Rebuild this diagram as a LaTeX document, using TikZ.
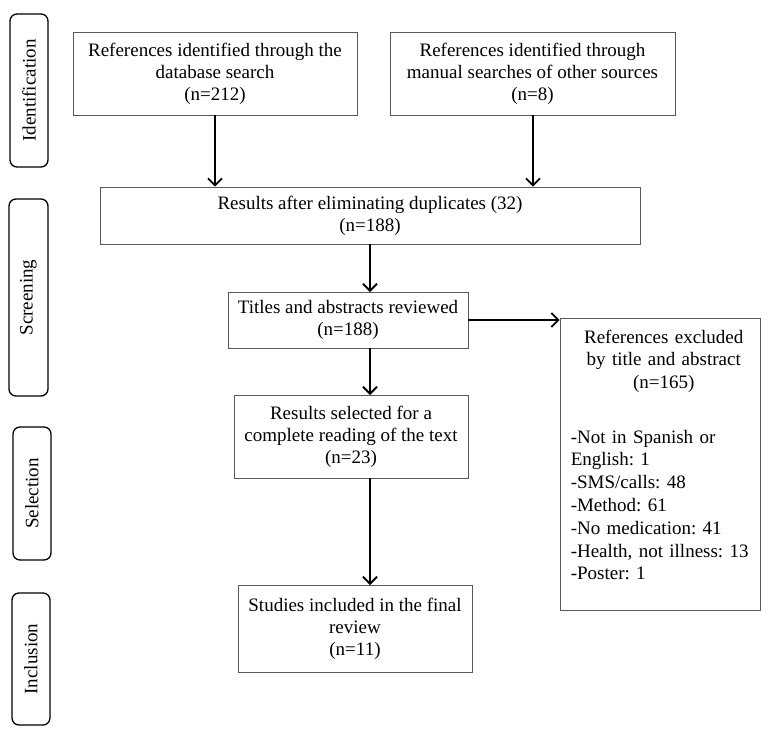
\documentclass[tikz,border=0pt]{standalone}
\usepackage{fontspec}
\setmainfont{Liberation Serif}
\usetikzlibrary{arrows.meta}
\newcommand{\mfs}{\fontsize{19}{22}\selectfont\frenchspacing}
\newcommand{\xfs}{\fontsize{19}{22.8}\selectfont\frenchspacing}
\begin{document}
\begin{tikzpicture}[x=1pt,y=-1pt,
  box/.style={draw=black!65, line width=0.9pt, align=center, inner sep=0pt, font=\mfs},
  side/.style={draw=black, rounded corners=7pt, line width=1.3pt, rotate=90, inner sep=0pt, font=\mfs},
  arr/.style={-{Straight Barb[length=7pt,width=14pt]}, line width=1.8pt}]
\useasboundingbox (0,0) rectangle (769,740);
% side labels
\node[side, minimum width=153, minimum height=38] (sid) at (29,90.5) {Identification};
\node[side, minimum width=197, minimum height=39] (sscr) at (28.5,297.5) {Screening};
\node[side, minimum width=133, minimum height=38] (ssel) at (32,493.5) {Selection};
\node[side, minimum width=132, minimum height=38] (sinc) at (31,659) {Inclusion};
% boxes
\node[box, minimum width=284, minimum height=83] (b1) at (215,73.5) {References identified through the\\database search\\(n=212)};
\node[box, minimum width=285, minimum height=83] (b2) at (532.5,73.5) {References identified through\\manual searches of other sources\\(n=8)};
\node[box, minimum width=540, minimum height=57] (b3) at (370,215.5) {Results after eliminating duplicates (32)\\(n=188)};
\node[box, minimum width=240, minimum height=56] (b4) at (348,320) {Titles and abstracts reviewed\\(n=188)};
\node[box, minimum width=234, minimum height=83] (b6) at (351,436.5) {Results selected for a\\complete reading of the text\\(n=23)};
\node[box, minimum width=234, minimum height=87] (b7) at (355,628.5) {Studies included in the final\\review\\(n=11)};
\node[draw=black!65, line width=0.9pt, minimum width=200, minimum height=292, inner sep=0pt] (b5) at (660,464) {};
\node[anchor=north west, inner sep=0pt, text width=186pt, align=left, font=\xfs] (b5t) at ([xshift=11pt,yshift=-12pt]b5.north west)
 {{\centering References excluded\\by title and abstract\\(n=165)\par}\vspace{31.5pt}%
 -Not in Spanish or\\English: 1\\-SMS/calls: 48\\-Method: 61\\-No medication: 41\\-Health, not illness: 13\\-Poster: 1};
% arrows
\draw[arr] (b1.south) -- (b1.south |- b3.north);
\draw[arr] ([xshift=0.5pt]b2.south) -- ([xshift=0.5pt]b2.south |- b3.north);
\coordinate (a3s) at (370,244);
\coordinate (a4n) at (370,292);
\draw[arr] (a3s) -- (a4n);
\coordinate (a4s) at (370,348);
\coordinate (a6n) at (370,395);
\draw[arr] (a4s) -- (a6n);
\coordinate (a6s) at (370,478);
\coordinate (a7n) at (370,585);
\draw[arr] (a6s) -- (a7n);
\draw[arr] (b4.east) -- (b4.east -| b5.west);
\end{tikzpicture}
\end{document}
